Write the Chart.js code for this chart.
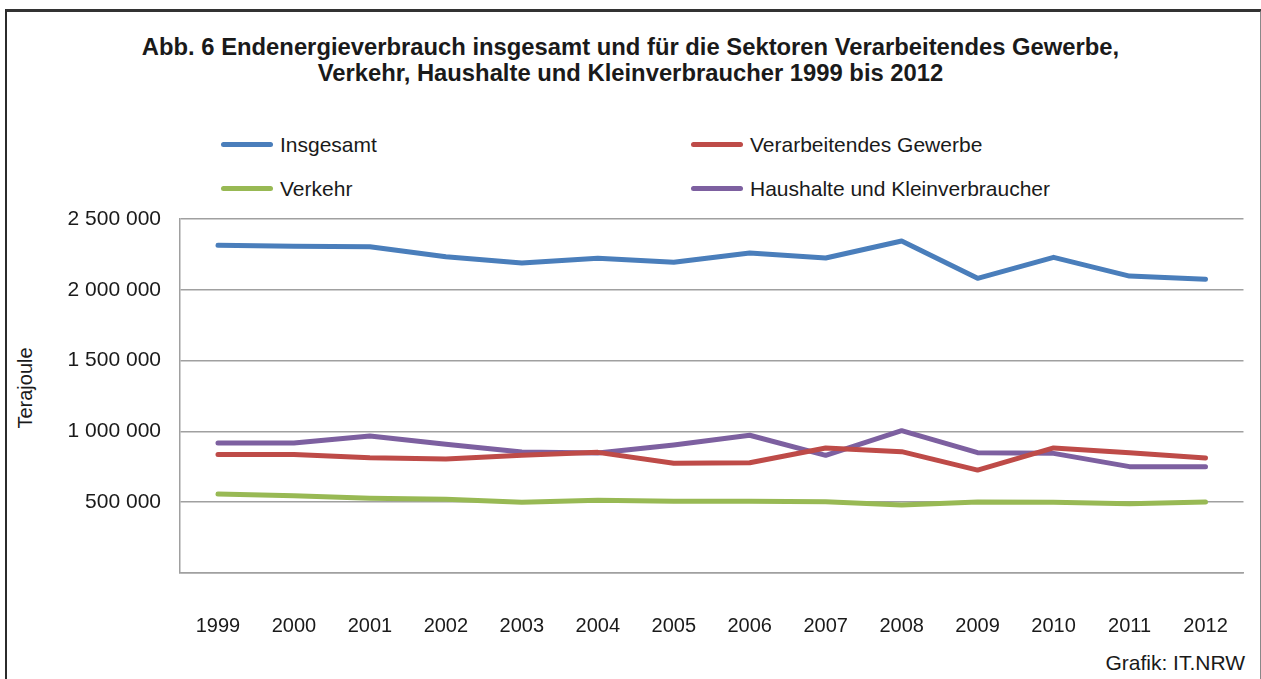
<!DOCTYPE html>
<html lang="de">
<head>
<meta charset="utf-8">
<script src="https://cdn.jsdelivr.net/npm/chart.js@4/dist/chart.umd.min.js"></script>
<style>
  html, body { margin: 0; padding: 0; background: #fff; }
  body { width: 1261px; height: 679px; position: relative; overflow: hidden; font-family: "Liberation Sans", Arial, sans-serif; color: #1a1a1a; }
  #frame { position: absolute; left: 5px; top: 9px; width: 1253px; height: 700px; border-left: 2px solid #2b2b2b; border-top: 3px solid #333; border-right: 2px solid #888; }
  #title { position: absolute; left: 0; top: 34px; width: 1261px; text-align: center; font-weight: bold; font-size: 23.8px; line-height: 26px; }
  .leg { position: absolute; font-size: 21px; line-height: 24px; }
  .leg i { position: absolute; left: -59px; top: 9px; width: 52px; height: 5px; border-radius: 3px; }
  #ytitle { position: absolute; left: 25px; top: 388px; font-size: 20px; transform: translate(-50%, -50%) rotate(-90deg); white-space: nowrap; }
  #source { position: absolute; right: 16px; top: 651px; font-size: 21px; }
  canvas { position: absolute; left: 0; top: 0; }
</style>
</head>
<body>
<div id="frame"></div>
<div id="title">Abb. 6 Endenergieverbrauch insgesamt und für die Sektoren Verarbeitendes Gewerbe,<br>Verkehr, Haushalte und Kleinverbraucher 1999 bis 2012</div>
<div id="legend"></div>
<div id="ytitle">Terajoule</div>
<div id="source">Grafik: IT.NRW</div>
<canvas id="chart" width="1261" height="679"></canvas>
<script>
const years = ['1999', '2000', '2001', '2002', '2003', '2004', '2005', '2006', '2007', '2008', '2009', '2010', '2011', '2012'];
const seriesNames = ['Insgesamt', 'Verarbeitendes Gewerbe', 'Verkehr', 'Haushalte und Kleinverbraucher'];
const seriesColors = ['#4a7ebb', '#be4b48', '#98b954', '#7d60a0'];

const insgesamt = [2314000, 2307000, 2304000, 2234000, 2189000, 2222000, 2194000, 2260000, 2225000, 2345000, 2081000, 2229000, 2097000, 2074000];
const verarbeitendesGewerbe = [836000, 836000, 814000, 805000, 831000, 852000, 775000, 779000, 883000, 857000, 727000, 883000, 850000, 812000];
const verkehr = [558000, 546000, 528000, 520000, 499000, 513000, 506000, 506000, 504000, 480000, 501000, 499000, 489000, 501000];
const haushalte = [918000, 918000, 967000, 909000, 855000, 847000, 904000, 973000, 831000, 1005000, 850000, 845000, 751000, 751000];

const yTicks = [0, 500000, 1000000, 1500000, 2000000, 2500000];

// legend in two columns, built from the series arrays
const legendPos = [[280, 133], [750, 133], [280, 177], [750, 177]];
const legend = document.getElementById('legend');
seriesNames.forEach((name, i) => {
    const el = document.createElement('div');
    el.className = 'leg';
    el.style.left = legendPos[i][0] + 'px';
    el.style.top = legendPos[i][1] + 'px';
    el.innerHTML = '<i style="background:' + seriesColors[i] + '"></i>' + name;
    legend.appendChild(el);
});

function fmt(v) {
    return String(v).replace(/\B(?=(\d{3})+(?!\d))/g, ' ');
}

const values = [insgesamt, verarbeitendesGewerbe, verkehr, haushalte];

new Chart(document.getElementById('chart'), {
    type: 'line',
    data: {
        labels: years,
        datasets: values.map((data, i) => ({
            label: seriesNames[i],
            data: data,
            borderColor: seriesColors[i],
            backgroundColor: seriesColors[i],
            borderWidth: 5,
            borderCapStyle: 'round',
            borderJoinStyle: 'round',
            pointRadius: 0,
            tension: 0
        }))
    },
    options: {
        responsive: false,
        animation: false,
        layout: { padding: { top: 219, right: 7, bottom: 0, left: 0 } },
        plugins: { legend: { display: false }, title: { display: false }, tooltip: { enabled: false } },
        scales: {
            x: {
                offset: true,
                grid: { display: false },
                border: { display: true, color: '#a0a0a0', width: 1.5 },
                ticks: { color: '#1a1a1a', font: { family: 'Liberation Sans', size: 20 }, padding: 33, maxRotation: 0 },
                afterFit: (scale) => { scale.height = 106; }
            },
            y: {
                min: 0,
                max: 2500000,
                afterBuildTicks: (scale) => { scale.ticks = yTicks.map(v => ({ value: v })); },
                grid: { color: '#a0a0a0', lineWidth: 1.5, drawTicks: false },
                border: { display: true, color: '#a0a0a0', width: 1.5 },
                ticks: {
                    color: '#1a1a1a',
                    font: { family: 'Liberation Sans', size: 21 },
                    padding: 19,
                    callback: (v) => v === 0 ? '' : fmt(v)
                },
                afterFit: (scale) => { scale.width = 180; }
            }
        }
    }
});
</script>
</body>
</html>
